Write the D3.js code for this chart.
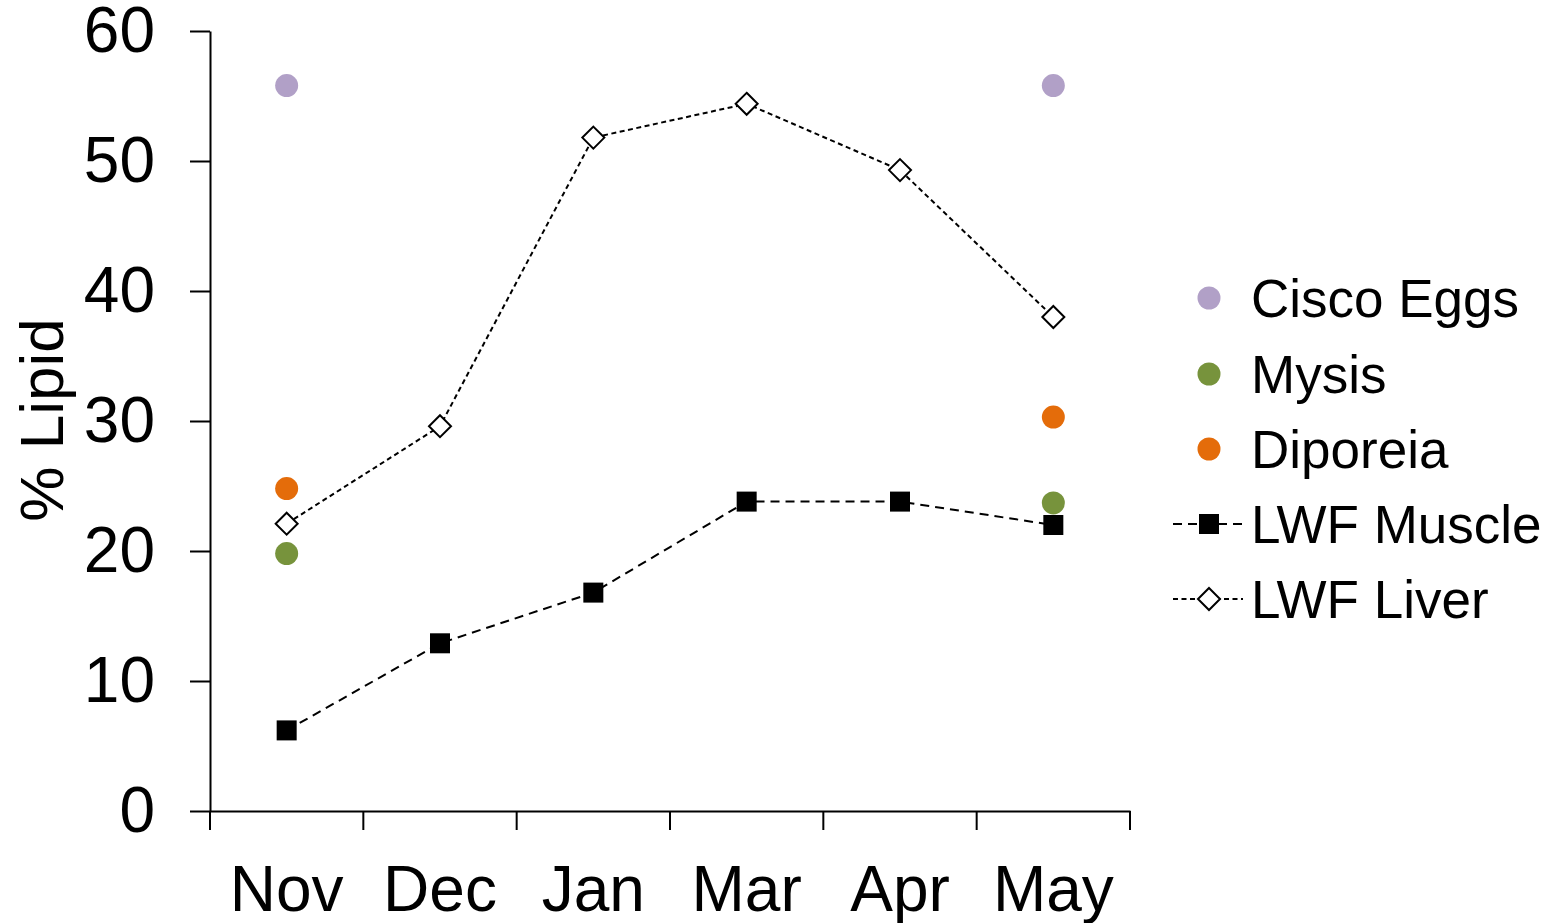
<!DOCTYPE html>
<html><head><meta charset="utf-8">
<script src="https://cdn.jsdelivr.net/npm/d3@7"></script>
<style>body{margin:0;background:#fff}svg text{font-family:"Liberation Sans",Arial,sans-serif}</style>
</head><body>
<svg id="c" width="1560" height="923"></svg>
<script>
const months = ["Nov","Dec","Jan","Mar","Apr","May"];
const yTicks = [0,10,20,30,40,50,60];
const muscle = [6.2,12.9,16.8,23.8,23.8,22.0];
const liver = [22.1,29.6,51.8,54.4,49.3,38.0];
const ciscoMonths = ["Nov","May"], cisco = [55.8,55.8];
const mysisMonths = ["Nov","May"], mysis = [19.8,23.7];
const diporeiaMonths = ["Nov","May"], diporeia = [24.8,30.3];
const legendLabels = ["Cisco Eggs","Mysis","Diporeia","LWF Muscle","LWF Liver"];

const svg = d3.select("#c");
const x = d3.scaleBand().domain(months).range([210,1130]);
const y = d3.scaleLinear().domain([0,60]).range([811,31]);
const cx = m => x(m)+x.bandwidth()/2;

// y axis
const ya = svg.append("g").attr("transform","translate(210,0)")
  .call(d3.axisLeft(y).tickValues(yTicks).tickSize(20).tickSizeOuter(0).tickPadding(35));
ya.select(".domain").attr("stroke","#000").attr("stroke-width",2);
ya.selectAll(".tick line").attr("stroke","#000").attr("stroke-width",2);
ya.selectAll("text").attr("font-size",64).attr("fill","#000").attr("font-family","Liberation Sans, Arial, sans-serif");

// x axis
const xa = svg.append("g").attr("transform","translate(0,811)")
  .call(d3.axisBottom(x).tickSize(0).tickSizeOuter(0).tickPadding(55));
xa.select(".domain").attr("stroke","#000").attr("stroke-width",2);
xa.selectAll("text").attr("font-size",64).attr("fill","#000").attr("font-family","Liberation Sans, Arial, sans-serif");
// x boundary ticks
const bounds = months.map(m=>x(m)).concat([x(months[months.length-1])+x.bandwidth()]);
svg.append("g").selectAll("line").data(bounds).join("line")
  .attr("x1",d=>d).attr("x2",d=>d).attr("y1",811).attr("y2",830)
  .attr("stroke","#000").attr("stroke-width",2);

// y label
svg.append("text").attr("transform","translate(63,420) rotate(-90)")
  .attr("text-anchor","middle").attr("font-size",62).text("% Lipid");

const line = d3.line().x((d,i)=>cx(months[i])).y(d=>y(d));
svg.append("path").datum(muscle).attr("d",line).attr("fill","none")
  .attr("stroke","#000").attr("stroke-width",2).attr("stroke-dasharray","9,6");
svg.append("path").datum(liver).attr("d",line).attr("fill","none")
  .attr("stroke","#000").attr("stroke-width",2).attr("stroke-dasharray","5,3.5");

// muscle squares
svg.append("g").selectAll("rect").data(muscle).join("rect")
  .attr("x",(d,i)=>cx(months[i])-10).attr("y",d=>y(d)-10)
  .attr("width",20).attr("height",20).attr("fill","#000");
// liver diamonds
const diamond = "M0,-11L11,0L0,11L-11,0Z";
svg.append("g").selectAll("path").data(liver).join("path")
  .attr("d",diamond).attr("transform",(d,i)=>`translate(${cx(months[i])},${y(d)})`)
  .attr("fill","#fff").attr("stroke","#000").attr("stroke-width",2);

function dots(ms, vals, color){
  svg.append("g").selectAll("circle").data(vals).join("circle")
    .attr("cx",(d,i)=>cx(ms[i])).attr("cy",d=>y(d)).attr("r",11.5).attr("fill",color);
}
dots(ciscoMonths,cisco,"#b1a0c7");
dots(mysisMonths,mysis,"#77933c");
dots(diporeiaMonths,diporeia,"#e46c0a");

// legend
const ly = [298,374,449,524,599];
const lg = svg.append("g");
const colors = ["#b1a0c7","#77933c","#e46c0a"];
colors.forEach((c,i)=>lg.append("circle").attr("cx",1209).attr("cy",ly[i]).attr("r",11.5).attr("fill",c));
lg.append("line").attr("x1",1173).attr("x2",1243).attr("y1",ly[3]).attr("y2",ly[3])
  .attr("stroke","#000").attr("stroke-width",2).attr("stroke-dasharray","9,6");
lg.append("rect").attr("x",1199).attr("y",ly[3]-10).attr("width",20).attr("height",20).attr("fill","#000");
lg.append("line").attr("x1",1173).attr("x2",1243).attr("y1",ly[4]).attr("y2",ly[4])
  .attr("stroke","#000").attr("stroke-width",2).attr("stroke-dasharray","5,3.5");
lg.append("path").attr("d",diamond).attr("transform",`translate(1209,${ly[4]})`)
  .attr("fill","#fff").attr("stroke","#000").attr("stroke-width",2);
lg.selectAll("text").data(legendLabels).join("text")
  .attr("x",1251).attr("y",(d,i)=>ly[i]).attr("dy","0.35em")
  .attr("font-size",53).attr("fill","#000").text(d=>d);
</script>
</body></html>
